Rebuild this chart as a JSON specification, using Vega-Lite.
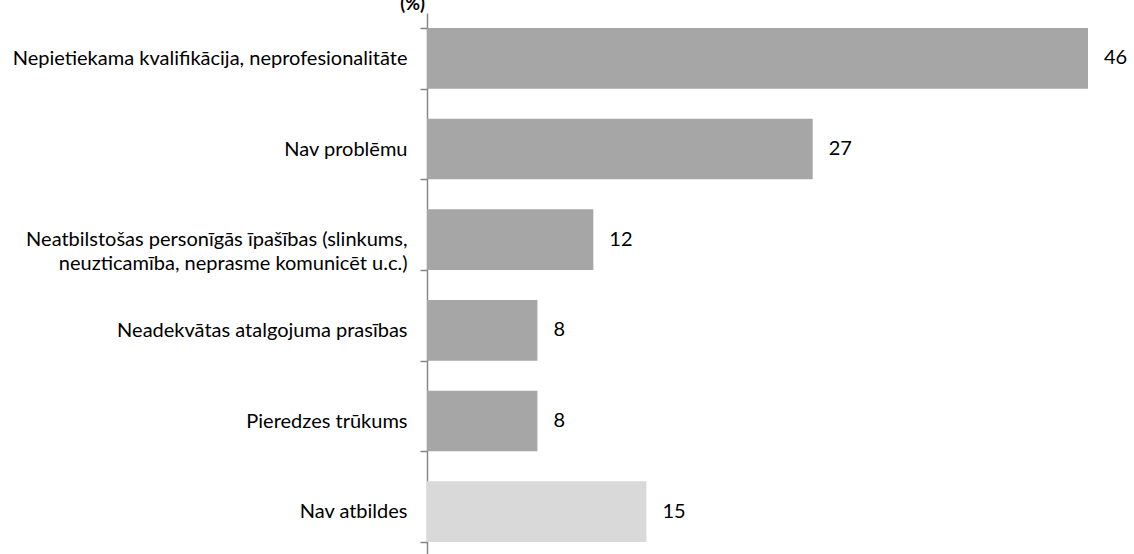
{
  "$schema": "https://vega.github.io/schema/vega-lite/v6.json",
  "autosize": {"type": "none"},
  "padding": {"left": 427, "top": 13, "right": 46, "bottom": 0},
  "width": 661,
  "height": 544,
  "config": {"view": {"stroke": null}, "font": "Lato"},
  "data": {
    "values": [
      {"kategorija": "Nepietiekama kvalifikācija, neprofesionalitāte", "vertiba": 46.1, "grupa": "a"},
      {"kategorija": "Nav problēmu", "vertiba": 26.9, "grupa": "a"},
      {"kategorija": "Neatbilstošas personīgās īpašības (slinkums,|neuzticamība, neprasme komunicēt u.c.)", "vertiba": 11.6, "grupa": "a"},
      {"kategorija": "Neadekvātas atalgojuma prasības", "vertiba": 7.7, "grupa": "a"},
      {"kategorija": "Pieredzes trūkums", "vertiba": 7.7, "grupa": "a"},
      {"kategorija": "Nav atbildes", "vertiba": 15.3, "grupa": "b"}
    ]
  },
  "encoding": {
    "y": {
      "field": "kategorija", "type": "nominal", "sort": null,
      "scale": {"paddingInner": 0.33, "paddingOuter": 0.165},
      "axis": {
        "title": null, "tickBand": "extent", "labelExpr": "split(datum.label, '|')",
        "labelFont": "Lato", "labelFontSize": 20, "labelColor": "#000000", "labelPadding": 13,
        "labelLimit": 500, "labelLineHeight": 24,
        "domainColor": "#868686", "domainWidth": 1.5, "tickColor": "#868686", "tickWidth": 1.5, "tickSize": 7, "grid": false
      }
    },
    "x": {
      "field": "vertiba", "type": "quantitative", "scale": {"domain": [0, 46.1], "nice": false, "zero": true},
      "axis": {
        "orient": "top", "title": "(%)", "labels": false, "ticks": false, "domain": false, "grid": false,
        "titleX": -15, "titleY": -4, "titleAlign": "center", "titleBaseline": "alphabetic", "titleAnchor": null,
        "titleFont": "Lato", "titleFontSize": 18, "titleFontWeight": "bold", "titleColor": "#000000"
      }
    }
  },
  "layer": [
    {
      "mark": {"type": "bar"},
      "encoding": {
        "color": {"field": "grupa", "type": "nominal", "scale": {"domain": ["a", "b"], "range": ["#A6A6A6", "#D9D9D9"]}, "legend": null}
      }
    },
    {
      "mark": {"type": "text", "align": "left", "dx": 16, "font": "Lato", "fontSize": 20, "color": "#000000", "baseline": "middle"},
      "encoding": {"text": {"field": "vertiba", "type": "quantitative", "format": ".0f"}}
    }
  ]
}
